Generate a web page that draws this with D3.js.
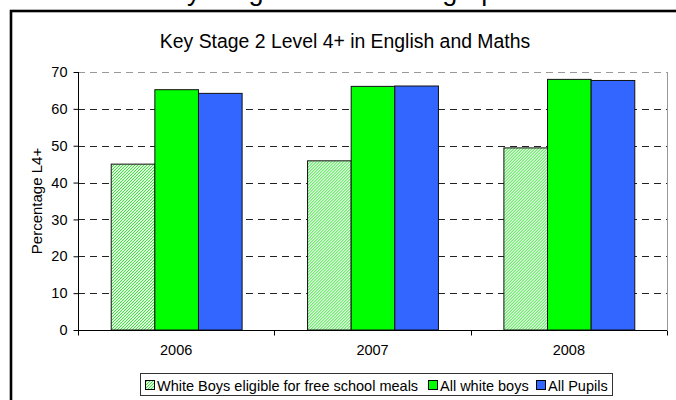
<!DOCTYPE html>
<html>
<head>
<meta charset="utf-8">
<script src="https://cdn.jsdelivr.net/npm/d3@7"></script>
<style>
  html, body { margin: 0; padding: 0; background: #fff; }
  svg { display: block; font-family: "Liberation Sans", Arial, sans-serif; }
</style>
</head>
<body>
<svg id="chart" width="676" height="400"></svg>
<script>
const years = ["2006", "2007", "2008"];
const seriesNames = ["White Boys eligible for free school meals", "All white boys", "All Pupils"];
const fsmWhiteBoys = [45.0, 45.9, 49.4];
const allWhiteBoys = [65.2, 66.1, 68.0];
const allPupils = [64.2, 66.2, 67.7];
const yTicks = [0, 10, 20, 30, 40, 50, 60, 70];
const seriesFills = ["url(#hatch)", "#00FF00", "#3366FF"];

const seriesValues = [fsmWhiteBoys, allWhiteBoys, allPupils];

const svg = d3.select("#chart");
const defs = svg.append("defs");
const pat = defs.append("pattern").attr("id", "hatch")
  .attr("patternUnits", "userSpaceOnUse").attr("width", 3).attr("height", 3);
pat.append("rect").attr("width", 3).attr("height", 3).attr("fill", "#dcffdc");
pat.append("path").attr("d", "M-1,1 L1,-1 M0,3 L3,0 M2,4 L4,2")
  .attr("stroke", "#44dd44").attr("stroke-width", 1);

// Heading of the page, mostly cut off above the chart frame
svg.append("text").attr("x", 154).attr("y", 0).attr("font-size", 27)
  .attr("fill", "#000").text("Key Stage 2 attainment graph");

// Outer frame
svg.append("rect").attr("x", 11).attr("y", 11).attr("width", 700).attr("height", 420)
  .attr("fill", "#fff").attr("stroke", "#000").attr("stroke-width", 2.6);

// Title
svg.append("text").attr("x", 345).attr("y", 48).attr("text-anchor", "middle")
  .attr("font-size", 19.4).attr("fill", "#000")
  .text("Key Stage 2 Level 4+ in English and Maths");

const pL = 78, pR = 667, pT = 72, pB = 330;
const x = d3.scaleBand().domain(years).range([pL, pR]).padding(0);
const step = x.bandwidth();
const xs = d3.scaleBand().domain(d3.range(seriesNames.length))
  .range([step / 6, step * 5 / 6]).padding(0);
const y = d3.scaleLinear().domain([0, 70]).range([pB, pT]);

// Gridlines
const gg = svg.append("g");
gg.selectAll("line.grid").data(yTicks.filter(t => t > 0 && t < 70)).join("line")
  .attr("x1", pL).attr("x2", pR)
  .attr("y1", d => Math.round(y(d)) + 0.5).attr("y2", d => Math.round(y(d)) + 0.5)
  .attr("stroke", "#222").attr("stroke-dasharray", "7,5");
gg.append("line").attr("x1", pL).attr("x2", pR)
  .attr("y1", Math.round(y(70)) + 0.5).attr("y2", Math.round(y(70)) + 0.5)
  .attr("stroke", "#999").attr("stroke-dasharray", "7,5");
gg.append("line").attr("x1", pR + 0.5).attr("x2", pR + 0.5)
  .attr("y1", y(70)).attr("y2", y(0)).attr("stroke", "#999");

// Bars
const groups = svg.append("g").selectAll("g").data(years).join("g")
  .attr("transform", d => `translate(${x(d)},0)`);
groups.selectAll("rect").data((d, i) => seriesValues.map((s, j) => ({ j, v: s[i] })))
  .join("rect")
  .attr("x", d => xs(d.j) + 0.5)
  .attr("width", xs.bandwidth())
  .attr("y", d => y(d.v))
  .attr("height", d => y(0) - y(d.v))
  .attr("fill", d => seriesFills[d.j])
  .attr("stroke", "#111").attr("stroke-width", 1);

// Y axis
const yAxis = d3.axisLeft(y).tickValues(yTicks).tickSize(5).tickPadding(6);
const ya = svg.append("g").attr("transform", `translate(${pL + 0.5},0)`).call(yAxis);
ya.selectAll(".domain").attr("stroke", "#000").attr("d", `M0,${y(70)}V${y(0)}`);
ya.selectAll("text").attr("font-size", 14.5).attr("font-family", "Liberation Sans, Arial, sans-serif").attr("fill", "#000");
ya.selectAll(".tick line").attr("stroke", "#000");

// X axis
const xa = svg.append("g").attr("transform", `translate(0,${pB + 0.5})`)
  .call(d3.axisBottom(x).tickSize(0).tickPadding(14));
xa.select(".domain").attr("d", `M${pL},0H${pR}`).attr("stroke", "#000");
xa.selectAll("text").attr("font-size", 14.5).attr("font-family", "Liberation Sans, Arial, sans-serif").attr("fill", "#000");
xa.selectAll("line.cat").data(years.concat(["end"])).join("line").attr("class", "cat")
  .attr("x1", (d, i) => Math.round(pL + i * step) + 0.5)
  .attr("x2", (d, i) => Math.round(pL + i * step) + 0.5)
  .attr("y1", 0).attr("y2", 5).attr("stroke", "#000");

// Y axis title
svg.append("text").attr("transform", `translate(42,${(pT + pB) / 2}) rotate(-90)`)
  .attr("text-anchor", "middle").attr("font-size", 15).attr("fill", "#000")
  .text("Percentage L4+");

// Legend
const leg = svg.append("g");
leg.append("rect").attr("x", 140.5).attr("y", 373.5).attr("width", 472).attr("height", 22)
  .attr("fill", "#fff").attr("stroke", "#333");
const legX = [145, 428, 536];
seriesNames.forEach((name, i) => {
  leg.append("rect").attr("x", legX[i] + 0.5).attr("y", 380.5).attr("width", 9).attr("height", 9)
    .attr("fill", seriesFills[i]).attr("stroke", "#000");
  leg.append("text").attr("x", legX[i] + 12).attr("y", 390.5).attr("font-size", 14.5)
    .attr("fill", "#000").text(name);
});
</script>
</body>
</html>
